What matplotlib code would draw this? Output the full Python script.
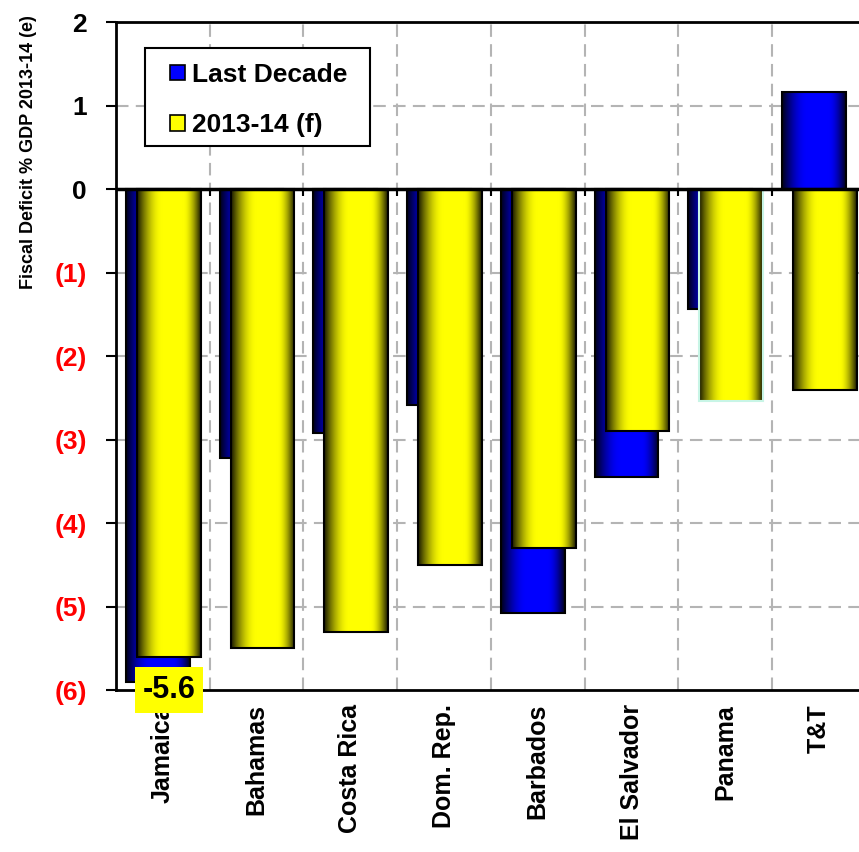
import numpy as np
import matplotlib
matplotlib.use("Agg")
import matplotlib.pyplot as plt
from matplotlib.patches import Patch, Rectangle
from matplotlib import font_manager

countries = ["Jamaica", "Bahamas", "Costa Rica", "Dom. Rep.", "Barbados",
             "El Salvador", "Panama", "T&T"]
last_decade = [-5.9, -3.22, -2.92, -2.59, -5.08, -3.45, -1.44, 1.16]
fy2013_14 = [-5.6, -5.5, -5.3, -4.5, -4.3, -2.9, -2.54, -2.4]
ytick_vals = [2, 1, 0, -1, -2, -3, -4, -5, -6]
ytick_text = ["2", "1", "0", "(1)", "(2)", "(3)", "(4)", "(5)", "(6)"]

plt.rcParams['font.family'] = ['Liberation Sans', 'DejaVu Sans']
plt.rcParams['font.weight'] = 'bold'

# narrow face for the axis title if it exists
names = {f.name for f in font_manager.fontManager.ttflist}
narrow = 'Liberation Sans Narrow' if 'Liberation Sans Narrow' in names else 'Liberation Sans'
title_size = 16 if narrow == 'Liberation Sans Narrow' else 13

fig = plt.figure(figsize=(8.59, 8.52), dpi=100)
ax = fig.add_axes([0.135, 0.190, 0.873, 0.784])

x = np.arange(len(countries))
width = 0.68
blue_off = -0.053
yel_off = 0.064


def shade(base, n=256):
    # cylinder look: dark edges, bright band slightly right of centre
    t = np.linspace(0, 1, n)
    rise = np.clip(t / 0.4, 0, 1)
    fall = np.clip((1 - t) / 0.28, 0, 1)
    f = np.minimum(np.sin(rise * np.pi / 2), np.sin(fall * np.pi / 2))
    f = 0.1 + 0.9 * f
    img = np.array(base)[None, :] * f[:, None]
    return img[None, :, :]


def gradient_bars(xs, vals, base, edges, z):
    bars = ax.bar(xs, vals, width, color='none', edgecolor=edges,
                  linewidth=1.5, zorder=z + 1)
    for b in bars:
        x0, y0 = b.get_x(), b.get_y()
        x1, y1 = x0 + b.get_width(), y0 + b.get_height()
        im = ax.imshow(shade(base), extent=[x0, x1, min(y0, y1), max(y0, y1)],
                       aspect='auto', zorder=z, interpolation='bilinear')
        im.set_clip_path(b)
    return bars


gradient_bars(x + blue_off, last_decade, (0.0, 0.0, 1.0), 'black', 3)
yel_edges = ['black'] * len(countries)
yel_edges[countries.index("Panama")] = '#c8f5e6'
gradient_bars(x + yel_off, fy2013_14, (1.0, 1.0, 0.0), yel_edges, 5)

ax.set_xlim(-0.5, len(countries) - 0.5)
ax.set_ylim(-6, 2)

# grid
dash = (0, (6, 3.5))
for gx in np.arange(0.5, len(countries) - 0.5, 1):
    ax.axvline(gx, color='#b4b4b4', lw=1.5, ls=dash, zorder=1)
for gy in range(-5, 2):
    ax.axhline(gy, color='#b4b4b4', lw=1.5, ls=dash, zorder=1)

ax.axhline(0, color='black', lw=2.5, zorder=8)
ax.vlines(np.arange(0.5, len(countries) - 0.5, 1), -0.08, 0, color='black',
          lw=1.5, zorder=8)

ax.spines['right'].set_visible(False)
for s in ['left', 'top', 'bottom']:
    ax.spines[s].set_linewidth(2)
    ax.spines[s].set_zorder(9)

ax.set_yticks(ytick_vals)
ax.set_yticklabels(ytick_text, fontsize=19, fontweight='bold')
for lab, v in zip(ax.get_yticklabels(), ytick_vals):
    lab.set_color('red' if v < 0 else 'black')
ax.tick_params(axis='y', direction='out', length=7, width=1.5, pad=14)

ax.set_xticks(x)
ax.set_xticklabels(countries, rotation=90, fontsize=18, fontweight='bold')
ax.tick_params(axis='x', length=0, pad=10)

ax.set_ylabel("Fiscal Deficit % GDP 2013-14 (e)", fontsize=title_size,
              fontweight='bold', family=narrow)
ax.yaxis.set_label_coords(-0.105, 0.805)

# legend box drawn separately so it can be wider than the entries
ax.add_patch(Rectangle((0.0387, 0.814), 0.3, 0.147, transform=ax.transAxes,
                       facecolor='white', edgecolor='black', lw=1.5, zorder=10))
handles = [Patch(facecolor='#0000ff', edgecolor='black', lw=1.2, label='Last Decade'),
           Patch(facecolor='#ffff00', edgecolor='black', lw=1.2, label='2013-14 (f)')]
leg = ax.legend(handles=handles, loc='upper left', bbox_to_anchor=(0.065, 0.947),
                borderaxespad=0, fontsize=19, handlelength=0.55, handleheight=0.55,
                handletextpad=0.3, labelspacing=1.0, borderpad=0.2,
                frameon=False)
leg.set_zorder(11)
for t in leg.get_texts():
    t.set_fontweight('bold')

# value tag on the Jamaica forecast bar
j = countries.index("Jamaica")
ax.text(x[j] + yel_off, -6.0, f"{fy2013_14[j]:.1f}", fontsize=22, fontweight='bold',
        ha='center', va='center', zorder=12, clip_on=False,
        bbox=dict(boxstyle='square,pad=0.25', facecolor='#ffff00', edgecolor='none'))

fig.savefig("out.png", dpi=100)
